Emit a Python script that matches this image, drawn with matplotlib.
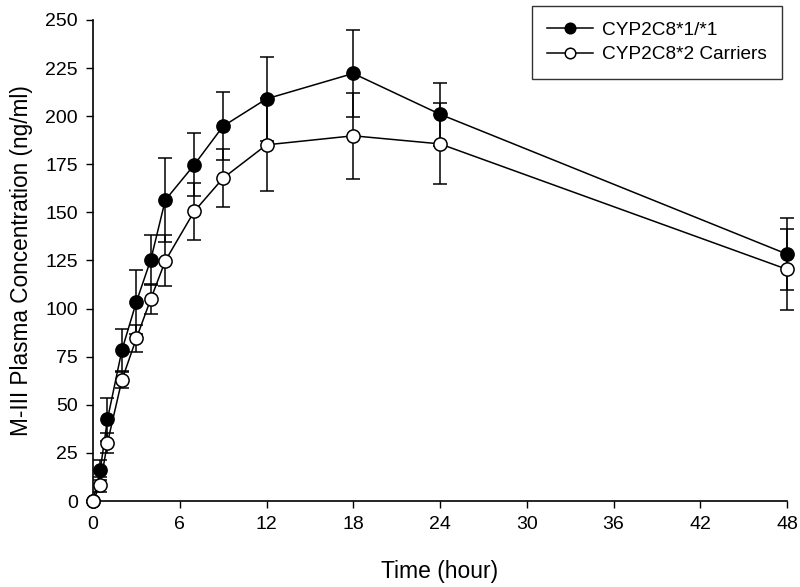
import matplotlib
matplotlib.use("Agg")
import matplotlib.pyplot as plt

plt.rcParams['font.family'] = ['Liberation Sans', 'DejaVu Sans']

time_h = [0, 0.5, 1, 2, 3, 4, 5, 7, 9, 12, 18, 24, 48]
wt_mean = [0, 16.1, 42.4, 78.4, 103.5, 125.5, 156.4, 174.7, 194.8, 209.0, 222.2, 201.0, 128.3]
wt_sd = [0, 5.2, 11.3, 11.0, 16.5, 13.0, 21.6, 16.3, 17.5, 21.8, 22.5, 16.3, 18.6]
c2_mean = [0, 8.5, 30.3, 62.9, 84.5, 105.0, 124.8, 150.5, 167.8, 185.1, 189.8, 185.6, 120.4]
c2_sd = [0, 4.0, 5.3, 4.0, 7.0, 7.7, 13.3, 15.0, 15.0, 24.2, 22.2, 21.0, 21.0]
labels = ["CYP2C8*1/*1", "CYP2C8*2 Carriers"]
xticks = [0, 6, 12, 18, 24, 30, 36, 42, 48]
yticks = [0, 25, 50, 75, 100, 125, 150, 175, 200, 225, 250]

fig = plt.figure(figsize=(8, 5.87), dpi=100)
ax = fig.add_axes([0.11625, 0.1465, 0.8675, 0.8195])

lw = 1.1
ms = 9.5
for m, s in ((wt_mean, wt_sd), (c2_mean, c2_sd)):
    ax.errorbar(time_h, m, yerr=s, fmt='none', ecolor='black', elinewidth=lw,
                capsize=5.3, capthick=lw, zorder=2, clip_on=False)

ax.plot(time_h, wt_mean, '-o', color='black', lw=lw, ms=ms, mfc='black', mec='black',
        mew=1.1, zorder=3, clip_on=False, label=labels[0])
ax.plot(time_h, c2_mean, '-o', color='black', lw=lw, ms=ms, mfc='white', mec='black',
        mew=1.1, zorder=4, clip_on=False, label=labels[1])

ax.set_xlim(0, 48)
ax.set_ylim(0, 250)
ax.set_xticks(xticks)
ax.set_yticks(yticks)
ax.tick_params(direction='out', length=5, width=1, labelsize=14, pad=6)
for side in ('top', 'right'):
    ax.spines[side].set_visible(False)
for side in ('left', 'bottom'):
    ax.spines[side].set_linewidth(1.2)

ax.set_xlabel("Time (hour)", fontsize=16.5, labelpad=19)
ax.set_ylabel("M-III Plasma Concentration (ng/ml)", fontsize=16.3, labelpad=9)

leg = ax.legend(loc='upper right', bbox_to_anchor=(0.993, 1.029), fontsize=13.7,
                frameon=True, fancybox=False, edgecolor='black', handlelength=2.4,
                handletextpad=0.5, borderpad=0.8, labelspacing=0.4, markerscale=0.8,
                borderaxespad=0)
leg.get_frame().set_linewidth(1.0)

fig.savefig("out.png", dpi=100)
